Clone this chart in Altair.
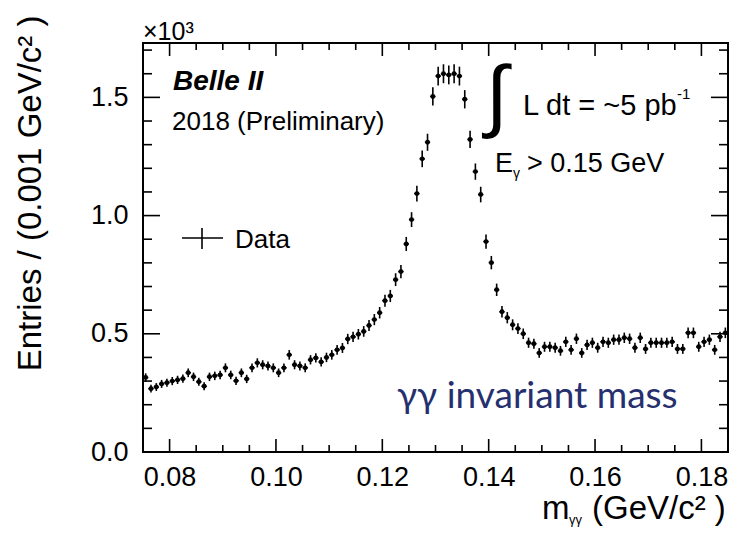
import altair as alt
import pandas as pd
import numpy as np

# ---- data ----
bin_centers = [round(0.0755 + 0.001 * i, 4) for i in range(110)]
entries = [
    315, 268, 275, 288, 293, 300, 305, 310, 335, 318,
    297, 278, 318, 322, 326, 356, 326, 301, 335, 309,
    356, 377, 369, 364, 356, 335, 356, 411, 369, 364,
    356, 390, 398, 381, 400, 411, 432, 440, 478, 487,
    498, 510, 535, 560, 589, 640, 660, 729, 763, 880,
    983, 1093, 1240, 1310, 1504, 1590, 1600, 1595, 1600, 1590,
    1492, 1322, 1186, 1089, 890, 801, 686, 593, 568, 538,
    522, 500, 462, 458, 419, 445, 445, 441, 428, 466,
    432, 479, 419, 453, 462, 441, 466, 462, 475, 475,
    483, 479, 441, 483, 436, 462, 462, 462, 462, 466,
    436, 436, 504, 504, 445, 466, 475, 432, 487, 504,
]
half_bin = 0.0005

x_major = [0.08, 0.10, 0.12, 0.14, 0.16, 0.18]
x_minor = [0.085, 0.09, 0.095, 0.105, 0.11, 0.115, 0.125, 0.13, 0.135,
           0.145, 0.15, 0.155, 0.165, 0.17, 0.175]
y_major = [0, 500, 1000, 1500]
y_minor = [100, 200, 300, 400, 600, 700, 800, 900, 1100, 1200, 1300, 1400, 1600, 1700]

X_DOMAIN = [0.075, 0.185]
Y_DOMAIN = [0, 1730]
W, H = 585, 409
FONT = "Liberation Sans"

df = pd.DataFrame({"x": bin_centers, "v": entries})
err = np.sqrt(df["v"])
df["lo"] = df["v"] - err
df["hi"] = df["v"] + err
df["xlo"] = df["x"] - half_bin
df["xhi"] = df["x"] + half_bin

xs = alt.Scale(domain=X_DOMAIN, nice=False, zero=False)
ys = alt.Scale(domain=Y_DOMAIN, nice=False, zero=False)

base = alt.Chart(df)

y_axis = alt.Axis(
    values=y_major, labelExpr="format(datum.value/1000, '.1f')",
    ticks=False, domain=False, grid=False,
    labelFontSize=27, labelFont=FONT, labelColor="black", labelPadding=15,
    title="Entries / (0.001 GeV/c² )", titleFont=FONT, titleFontSize=33,
    titleFontWeight="normal", titleColor="black", titleAngle=270,
    titleX=-103, titleY=-28, titleAlign="right", titleBaseline="alphabetic",
)
x_axis = alt.Axis(
    values=x_major, format=".2f", ticks=False, domain=False, grid=False,
    labelFontSize=27, labelFont=FONT, labelColor="black", labelPadding=12,
    title="",
)

vbars = base.mark_rule(color="black", strokeWidth=1.6).encode(
    x=alt.X("x:Q", scale=xs, axis=x_axis),
    y=alt.Y("lo:Q", scale=ys, axis=y_axis),
    y2="hi:Q",
)
hbars = base.mark_rule(color="black", strokeWidth=1.6).encode(
    x=alt.X("xlo:Q", scale=xs, axis=x_axis),
    x2="xhi:Q",
    y=alt.Y("v:Q", scale=ys, axis=y_axis),
)
pts = base.mark_point(filled=True, color="black", size=24, opacity=1, shape="circle").encode(
    x=alt.X("x:Q", scale=xs, axis=x_axis),
    y=alt.Y("v:Q", scale=ys, axis=y_axis),
)


def xticks(vals, length):
    d = alt.Chart(pd.DataFrame({"t": vals}))
    bottom = d.mark_rule(color="black", strokeWidth=1.6).encode(
        x=alt.X("t:Q", scale=xs, axis=x_axis), y=alt.value(H), y2=alt.value(H - length))
    top = d.mark_rule(color="black", strokeWidth=1.6).encode(
        x=alt.X("t:Q", scale=xs, axis=x_axis), y=alt.value(0), y2=alt.value(length))
    return [bottom, top]


def yticks(vals, length):
    d = alt.Chart(pd.DataFrame({"t": vals}))
    left = d.mark_rule(color="black", strokeWidth=1.6).encode(
        y=alt.Y("t:Q", scale=ys, axis=y_axis), x=alt.value(0), x2=alt.value(length))
    right = d.mark_rule(color="black", strokeWidth=1.6).encode(
        y=alt.Y("t:Q", scale=ys, axis=y_axis), x=alt.value(W), x2=alt.value(W - length))
    return [left, right]


tick_layers = xticks(x_major, 13) + xticks(x_minor, 7) + yticks(y_major, 17) + yticks(y_minor, 9)


def label(text, x, y, size=26, font=FONT, weight="normal", style="normal", color="black", align="left"):
    return alt.Chart(pd.DataFrame({"t": [text]})).mark_text(
        font=font, fontSize=size, fontWeight=weight, fontStyle=style, color=color,
        align=align, baseline="alphabetic",
    ).encode(text="t:N", x=alt.value(x), y=alt.value(y))


texts = [
    label("×10³", 0, -3, size=25),
    label("Belle II", 30, 47, size=28, weight="bold", style="italic"),
    label("2018 (Preliminary)", 29, 87, size=26),
    label("∫", 343, 79, size=80),
    label("L dt = ~5 pb", 380, 72, size=29),
    label("-1", 534, 56, size=15),
    label("E", 352, 129, size=27),
    label("γ", 370, 135, size=14),
    label("> 0.15 GeV", 384, 129, size=27),
    label("Data", 92, 205, size=26),
    label("γγ invariant mass", 254, 365, size=37, font="Lato", color="#26306e"),
    label("m", 399, 476, size=33),
    label("γγ", 426, 481, size=13),
    label("(GeV/c² )", 449, 476, size=33),
]

legend_h = alt.Chart(pd.DataFrame({"a": [0]})).mark_rule(color="black", strokeWidth=1.6).encode(
    x=alt.value(39), x2=alt.value(80), y=alt.value(195))
legend_v = alt.Chart(pd.DataFrame({"a": [0]})).mark_rule(color="black", strokeWidth=1.6).encode(
    x=alt.value(59), y=alt.value(185), y2=alt.value(206))

chart = alt.layer(
    vbars, hbars, pts, *tick_layers, legend_h, legend_v, *texts
).properties(
    width=W, height=H,
    padding={"left": 135, "top": 35, "right": 6, "bottom": 76},
    autosize=alt.AutoSizeParams(type="none"),
    background="white",
).configure_view(stroke="black", strokeWidth=2)

chart.save("out.html", embed_options={"renderer": "svg", "actions": False})
